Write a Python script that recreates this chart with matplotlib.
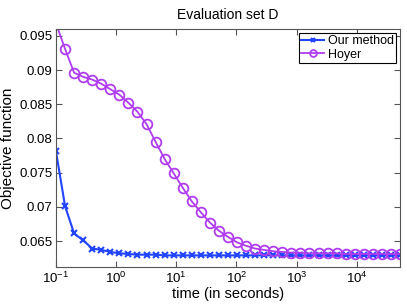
import numpy as np
import matplotlib
matplotlib.use("Agg")
import matplotlib.pyplot as plt

plt.rcParams['font.family'] = ['Liberation Sans', 'DejaVu Sans']

# time grid: 0.1 s doubling every two steps
time_s = 0.1 * 2.0 ** (np.arange(39) / 2.0)

our_method = [0.0781, 0.0701, 0.0661, 0.0651, 0.0639, 0.0637, 0.0634, 0.0632, 0.0631,
              0.0630, 0.0630, 0.0630, 0.0629, 0.0629, 0.0629, 0.0629, 0.0629, 0.0629,
              0.0629, 0.0629, 0.0629, 0.0629, 0.0629, 0.0629, 0.0629, 0.0629, 0.0629,
              0.0629, 0.0629, 0.0629, 0.0629, 0.0629, 0.0629, 0.0629, 0.0629, 0.0629,
              0.0629, 0.0629, 0.0629]
hoyer = [0.0968, 0.0931, 0.0896, 0.0890, 0.0886, 0.0880, 0.0872, 0.0864, 0.0852,
         0.0839, 0.0821, 0.0795, 0.0770, 0.0749, 0.0728, 0.0708, 0.0692, 0.0677,
         0.0665, 0.0656, 0.0648, 0.0643, 0.0639, 0.0637, 0.0635, 0.0634, 0.0633,
         0.0633, 0.0632, 0.0632, 0.0632, 0.0632, 0.0631, 0.0631, 0.0631, 0.0631,
         0.0631, 0.0631, 0.0631]

blue = '#2244ff'
purple = '#b03cf0'

fig = plt.figure(figsize=(4.07, 3.04), dpi=100)
ax = fig.add_axes([0.1376, 0.1217, 0.8452, 0.7829])

ax.plot(time_s, our_method, color=blue, marker='x', markersize=5, markeredgewidth=1.5,
        linewidth=1.5, label='Our method')
ax.plot(time_s, hoyer, color=purple, marker='o', markersize=7, markerfacecolor='none',
        markeredgewidth=1.3, linewidth=1.3, label='Hoyer')

ax.set_xscale('log')
ax.set_xlim(0.1, time_s[-1])
ax.set_ylim(0.0612, 0.0960)
ax.set_yticks([0.065, 0.07, 0.075, 0.08, 0.085, 0.09, 0.095])
ax.set_yticklabels(['0.065', '0.07', '0.075', '0.08', '0.085', '0.09', '0.095'])
ax.xaxis.set_minor_locator(matplotlib.ticker.NullLocator())
ax.tick_params(direction='in', top=True, right=True, labelsize=9.5, length=4,
               color='#555555', width=0.8, pad=2.5)
for s in ax.spines.values():
    s.set_color('#555555')

ax.set_xlabel('time (in seconds)', fontsize=10.5, labelpad=1)
ax.set_ylabel('Objective function', fontsize=11, labelpad=3)
ax.set_title('Evaluation set D', fontsize=10, pad=7)

leg = ax.legend(loc='upper right', numpoints=1, fontsize=9, fancybox=False,
                edgecolor='black', framealpha=1, handlelength=1.8, handletextpad=0.3,
                borderpad=0.2, labelspacing=0.1, borderaxespad=0.3, markerscale=0.7)
leg.get_frame().set_linewidth(0.8)

fig.savefig('out.png', dpi=100)
